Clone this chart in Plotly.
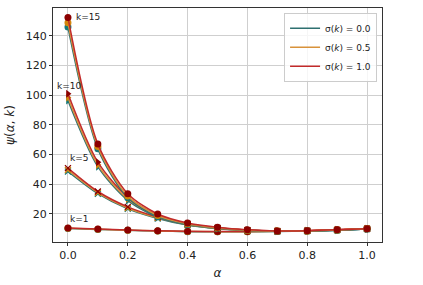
import plotly.graph_objects as go

alpha = [0.0, 0.1, 0.2, 0.3, 0.4, 0.5, 0.6, 0.7, 0.8, 0.9, 1.0]
ks = [1, 5, 10, 15]
sigmas = ["0.0", "0.5", "1.0"]

# psi values for each k, per sigma (0.0, 0.5, 1.0)
psi_k1 = [
    [10.0, 9.4, 8.8, 8.3, 7.9, 7.8, 7.8, 8.0, 8.3, 8.9, 9.7],
    [10.1, 9.5, 8.9, 8.4, 8.0, 7.9, 7.9, 8.1, 8.4, 9.0, 9.8],
    [10.3, 9.6, 9.0, 8.5, 8.1, 8.0, 8.0, 8.2, 8.5, 9.1, 9.9],
]
psi_k5 = [
    [48.5, 33.5, 23.3, 16.8, 12.3, 9.9, 8.6, 8.1, 8.3, 8.9, 9.7],
    [49.5, 34.2, 23.9, 17.2, 12.6, 10.1, 8.7, 8.2, 8.4, 9.0, 9.8],
    [50.8, 35.0, 24.6, 17.7, 13.0, 10.3, 8.9, 8.3, 8.5, 9.1, 9.9],
]
psi_k10 = [
    [96.5, 51.8, 29.0, 17.5, 12.5, 10.0, 8.7, 8.2, 8.3, 8.9, 9.7],
    [98.5, 53.0, 30.0, 18.2, 12.9, 10.2, 8.8, 8.3, 8.4, 9.0, 9.8],
    [101.0, 54.8, 31.2, 19.0, 13.3, 10.5, 9.0, 8.4, 8.5, 9.1, 9.9],
]
psi_k15 = [
    [146.0, 63.8, 30.8, 18.0, 12.8, 10.3, 8.8, 8.2, 8.3, 8.9, 9.7],
    [149.0, 65.3, 32.0, 18.8, 13.2, 10.5, 8.9, 8.3, 8.4, 9.0, 9.8],
    [152.5, 67.0, 33.5, 19.8, 13.7, 10.8, 9.1, 8.4, 8.5, 9.1, 9.9],
]
label_text = ["k=1", "k=5", "k=10", "k=15"]
label_x = [0.0, 0.0, -0.045, 0.02]
label_y = [16.5, 57.5, 106.0, 153.0]

data = {1: psi_k1, 5: psi_k5, 10: psi_k10, 15: psi_k15}
symbols = {1: "circle", 5: "x-thin", 10: "triangle-right", 15: "circle"}
line_colors = ["#2e7070", "#d8923a", "#c22a2a"]
marker_colors = ["#167878", "#d4860b", "#8b0000"]

fig = go.Figure()
for k in ks:
    for i, s in enumerate(sigmas):
        sym = symbols[k]
        mk = dict(size=7, color=marker_colors[i], symbol=sym)
        if sym == "x-thin":
            mk = dict(size=6, color=marker_colors[i], symbol=sym,
                      line=dict(width=1.3, color=marker_colors[i]))
        fig.add_trace(go.Scatter(
            x=alpha, y=data[k][i], mode="lines+markers",
            line=dict(color=line_colors[i], width=1.5, shape="spline", smoothing=0.8),
            marker=mk, showlegend=False, hoverinfo="skip"))

for i, s in enumerate(sigmas):
    fig.add_trace(go.Scatter(
        x=[None], y=[None], mode="lines",
        line=dict(color=line_colors[i], width=1.5),
        name=f"σ(<i>k</i>) = {s}"))

for t, x, y in zip(label_text, label_x, label_y):
    fig.add_annotation(x=x, y=y, text=t, showarrow=False, xanchor="left",
                       yanchor="middle", font=dict(size=9, color="#222"))

axis_common = dict(
    showgrid=True, gridcolor="#cfcfcf", gridwidth=1,
    showline=True, linecolor="#333", linewidth=1, mirror=True,
    ticks="outside", ticklen=3, tickcolor="#333",
    tickfont=dict(size=11, color="#222"), zeroline=False,
)
fig.update_xaxes(range=[-0.05, 1.05], tickvals=[0, 0.2, 0.4, 0.6, 0.8, 1.0],
                 ticktext=["0.0", "0.2", "0.4", "0.6", "0.8", "1.0"],
                 title=dict(text="<i>α</i>", font=dict(size=12, color="#222"), standoff=7),
                 **axis_common)
fig.update_yaxes(range=[0.9, 158.9], tickvals=[20, 40, 60, 80, 100, 120, 140],
                 title=dict(text="<i>ψ</i>(<i>α</i>, <i>k</i>)", font=dict(size=12, color="#222"), standoff=8),
                 **axis_common)

fig.update_layout(
    width=423, height=285,
    margin=dict(l=53, r=41, t=7, b=35),
    paper_bgcolor="white", plot_bgcolor="white",
    font=dict(family="DejaVu Sans", color="#222"),
    legend=dict(x=0.985, y=0.98, xanchor="right", yanchor="top",
                bgcolor="rgba(255,255,255,0.8)", bordercolor="#cccccc", borderwidth=1,
                font=dict(size=9), itemwidth=30, tracegroupgap=0),
)

fig.write_html("out.html")
